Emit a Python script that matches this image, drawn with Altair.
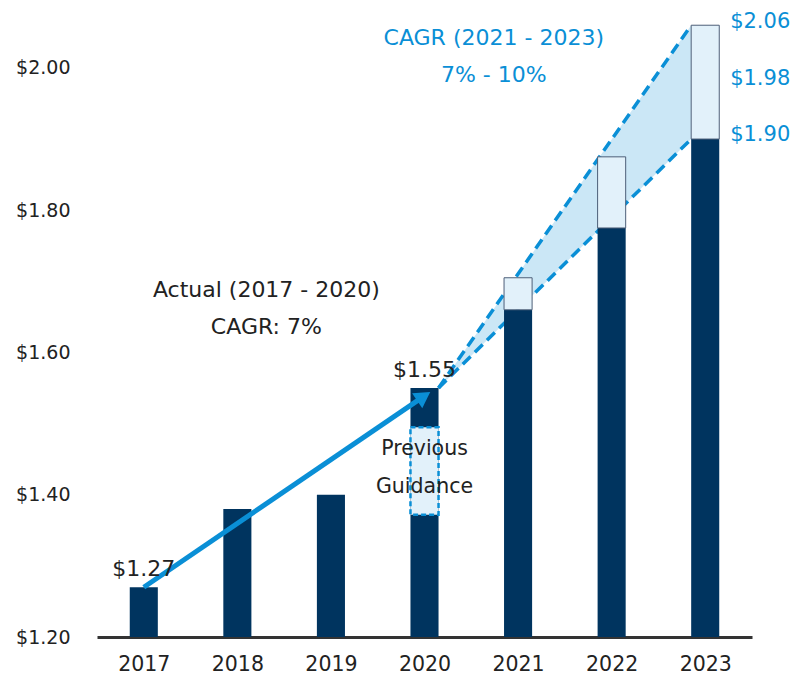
import altair as alt
import pandas as pd

# ---- data ----
years = [2017, 2018, 2019, 2020, 2021, 2022, 2023]
eps = [1.27, 1.38, 1.40, 1.55, 1.66, 1.775, 1.90]

box_years = [2021, 2022, 2023]
box_low = [1.66, 1.775, 1.90]
box_high = [1.705, 1.875, 2.06]

prev_year = [2020]
prev_low = [1.372]
prev_high = [1.495]

end_labels = ["$2.06", "$1.98", "$1.90"]
end_values = [2.065, 1.985, 1.906]

value_label_years = [2017, 2020]
value_label_text = ["$1.27", "$1.55"]
value_label_vals = [1.27, 1.55]

ann_dark_text = ["Actual (2017 - 2020)", "CAGR: 7%"]
ann_dark_x = [2018.31, 2018.31]
ann_dark_y = [1.688, 1.636]

ann_prev_text = ["Previous", "Guidance"]
ann_prev_x = [2020.0, 2020.0]
ann_prev_y = [1.464, 1.411]

ann_blue_text = ["CAGR (2021 - 2023)", "7% - 10%"]
ann_blue_x = [2020.74, 2020.74]
ann_blue_y = [2.042, 1.990]

arrow_start = (2017, 1.27)
arrow_end = (2020.1, 1.548)
range_start = (2020, 1.55)
range_end_low = (2023, 1.90)
range_end_high = (2023, 2.06)

# ---- styles ----
NAVY = "#00345f"
BLUE = "#0a8fd6"
DARK = "#222222"
BOX_FILL = "#e2f1fa"
BAND_FILL = "#cbe7f6"
FONT = "DejaVu Sans"
HALF = 0.15  # half bar width in year units

X = alt.X("x:Q", scale=alt.Scale(domain=[2016.5, 2023.5], nice=False, zero=False),
          axis=alt.Axis(values=years, format="d", domain=True, domainColor="#333333",
                        domainWidth=3, ticks=False, grid=False, labelFontSize=20.5,
                        labelColor=DARK, labelPadding=17, labelFont=FONT),
          title=None)
Y_SCALE = alt.Scale(domain=[1.2, 2.08], nice=False, zero=False)
Y = alt.Y("y:Q", scale=Y_SCALE,
          axis=alt.Axis(values=[1.2, 1.4, 1.6, 1.8, 2.0], format="$.2f", domain=False,
                        ticks=False, grid=False, labelFontSize=19, labelColor=DARK,
                        labelPadding=27, labelFont=FONT),
          title=None)

bars_df = pd.DataFrame({"year": years, "v": eps})
bars_df["x"] = bars_df["year"] - HALF
bars_df["x2"] = bars_df["year"] + HALF
bars_df["y"] = 1.2
bars_df["y2"] = bars_df["v"]

boxes_df = pd.DataFrame({"year": box_years, "y": box_low, "y2": box_high})
boxes_df["x"] = boxes_df["year"] - HALF
boxes_df["x2"] = boxes_df["year"] + HALF

prev_df = pd.DataFrame({"year": prev_year, "y": prev_low, "y2": prev_high})
prev_df["x"] = prev_df["year"] - HALF
prev_df["x2"] = prev_df["year"] + HALF

band_df = pd.DataFrame({
    "x": [range_start[0] + HALF, range_end_low[0] - HALF],
    "y": [range_start[1], range_end_low[1]],
    "y2": [range_start[1], range_end_high[1]],
})

lines_df = pd.DataFrame({
    "x": [range_start[0] + HALF, range_start[0] + HALF],
    "y": [range_start[1], range_start[1]],
    "x2": [range_end_low[0] - HALF, range_end_high[0] - HALF],
    "y2": [range_end_low[1], range_end_high[1]],
})

t = 0.965
arrow_df = pd.DataFrame({
    "x": [arrow_start[0]], "y": [arrow_start[1]],
    "x2": [arrow_start[0] + t * (arrow_end[0] - arrow_start[0])],
    "y2": [arrow_start[1] + t * (arrow_end[1] - arrow_start[1])],
})
head_df = pd.DataFrame({"x": arrow_df["x2"], "y": arrow_df["y2"]})

vlab_df = pd.DataFrame({"x": value_label_years, "y": value_label_vals, "t": value_label_text})
dark_df = pd.DataFrame({"x": ann_dark_x, "y": ann_dark_y, "t": ann_dark_text})
prevt_df = pd.DataFrame({"x": ann_prev_x, "y": ann_prev_y, "t": ann_prev_text})
blue_df = pd.DataFrame({"x": ann_blue_x, "y": ann_blue_y, "t": ann_blue_text})
end_df = pd.DataFrame({"x": [2023] * 3, "y": end_values, "t": end_labels})

band = alt.Chart(band_df).mark_area(color=BAND_FILL, opacity=1).encode(
    x=X, y=Y, y2="y2:Q")

dashed = alt.Chart(lines_df).mark_rule(color=BLUE, strokeWidth=3.5, strokeDash=[11, 6]).encode(
    x=X, y=Y, x2="x2:Q", y2="y2:Q")

bars = alt.Chart(bars_df).mark_rect(color=NAVY).encode(
    x=X, x2="x2:Q", y=Y, y2="y2:Q")

boxes = alt.Chart(boxes_df).mark_rect(fill=BOX_FILL, stroke="#4d5f78", strokeWidth=1).encode(
    x=X, x2="x2:Q", y=Y, y2="y2:Q")

prev = alt.Chart(prev_df).mark_rect(fill=BOX_FILL, stroke=BLUE, strokeWidth=2.5,
                                    strokeDash=[5, 3]).encode(
    x=X, x2="x2:Q", y=Y, y2="y2:Q")

arrow = alt.Chart(arrow_df).mark_rule(color=BLUE, strokeWidth=5).encode(
    x=X, y=Y, x2="x2:Q", y2="y2:Q")

head = alt.Chart(head_df).mark_point(shape="triangle-up", filled=True, color=BLUE,
                                     size=330, angle=56, opacity=1).encode(x=X, y=Y)

vlab = alt.Chart(vlab_df).mark_text(font=FONT, fontSize=22, color=DARK, baseline="alphabetic",
                                    dy=-11).encode(x=X, y=Y, text="t:N")

dark = alt.Chart(dark_df).mark_text(font=FONT, fontSize=22, color=DARK, baseline="middle").encode(
    x=X, y=Y, text="t:N")

prevt = alt.Chart(prevt_df).mark_text(font=FONT, fontSize=20.5, color=DARK, baseline="middle").encode(
    x=X, y=Y, text="t:N")

blue = alt.Chart(blue_df).mark_text(font=FONT, fontSize=22, color=BLUE, baseline="middle").encode(
    x=X, y=Y, text="t:N")

endl = alt.Chart(end_df).mark_text(font=FONT, fontSize=21, color=BLUE, baseline="middle",
                                   dx=55).encode(x=X, y=Y, text="t:N")

chart = alt.layer(band, dashed, bars, boxes, prev, arrow, head, vlab, dark, prevt, blue, endl).properties(
    width=655, height=626,
    padding={"left": 89, "top": 3, "right": 42, "bottom": 38},
    autosize=alt.AutoSizeParams(type="none"),
    background="white",
).configure_view(stroke=None)

chart.save("out.html", embed_options={"renderer": "svg", "actions": False})
